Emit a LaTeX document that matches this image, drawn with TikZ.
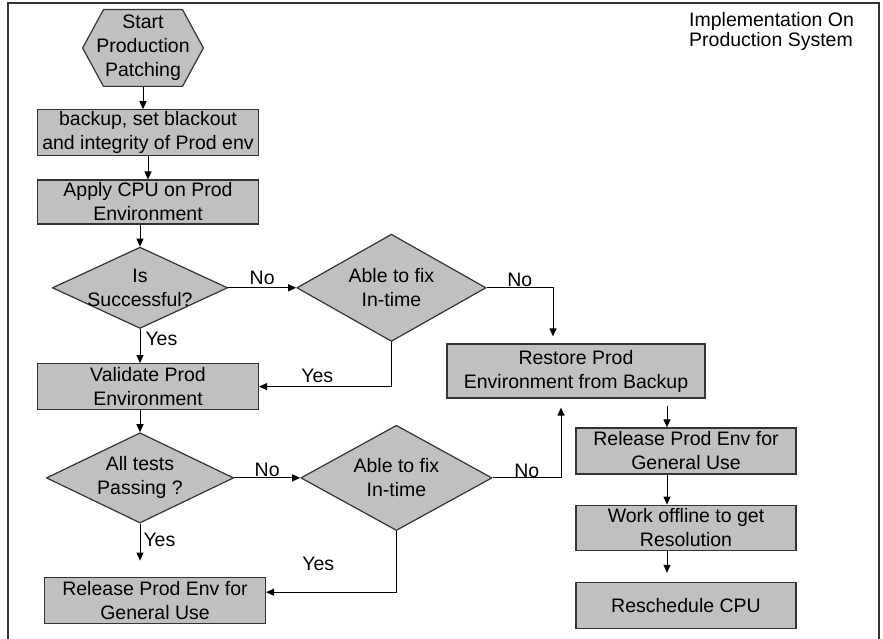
\documentclass[tikz,border=0pt]{standalone}
\usepackage{fontspec}
\setmainfont{Liberation Sans}
\usetikzlibrary{arrows.meta,positioning,calc}

\definecolor{boxgray}{HTML}{C0C0C0}
\definecolor{edgegray}{HTML}{333333}

\begin{document}
\begin{tikzpicture}[
  x=1pt, y=-1pt,
  every node/.style={font=\fontsize{19.5}{24}\selectfont, inner sep=1pt},
  box/.style={draw=edgegray, line width=1.2pt, fill=boxgray, align=center, minimum width=221pt, minimum height=46pt},
  decision/.style={align=center, path picture={\draw[draw=edgegray, line width=1.2pt, fill=boxgray]
      ([yshift=-0.6pt]path picture bounding box.north) -- ([xshift=-0.6pt]path picture bounding box.east)
      -- ([yshift=0.6pt]path picture bounding box.south) -- ([xshift=0.6pt]path picture bounding box.west) -- cycle;}},
  hexa/.style={align=center, minimum width=122pt, minimum height=78pt, path picture={\draw[draw=edgegray, line width=1.2pt, fill=boxgray]
      ([xshift=0.6pt]path picture bounding box.west) -- ([xshift=21.5pt, yshift=-0.6pt]path picture bounding box.north west)
      -- ([xshift=-21.5pt, yshift=-0.6pt]path picture bounding box.north east) -- ([xshift=-0.6pt]path picture bounding box.east)
      -- ([xshift=-21.5pt, yshift=0.6pt]path picture bounding box.south east) -- ([xshift=21.5pt, yshift=0.6pt]path picture bounding box.south west) -- cycle;}},
  arr/.style={-{Triangle[width=7pt,length=8pt]}, line width=1pt},
  title/.style={align=left, font=\fontsize{19.5}{20}\selectfont}
]
\useasboundingbox (0,0) rectangle (883,639);
\draw[edgegray, line width=1.5pt] (8,639) -- (8,3) -- (879,3) -- (879,639);

\node[title, anchor=west] (heading) at (688,31) {Implementation On\\Production System};

% main column
\node[hexa] (start) at (143,48) {Start\\Production\\Patching};
\node[box, below=22pt of start, xshift=5pt] (backup) {backup, set blackout\\and integrity of Prod env};
\node[box, minimum height=44pt, below=23pt of backup] (apply) {Apply CPU on Prod\\Environment};
\node[decision, minimum width=176pt, minimum height=82pt, below=22pt of apply, xshift=-8pt] (issucc) {Is\\Successful?};
\node[box, below=34pt of issucc, xshift=8pt] (validate) {Validate Prod\\Environment};
\node[decision, minimum width=188pt, minimum height=91pt, below=22pt of validate, xshift=-8pt] (alltests) {All tests\\Passing ?};
\node[box, below=53pt of alltests, xshift=15pt] (release) {Release Prod Env for\\General Use};

% fix attempts
\node[decision, minimum width=190pt, minimum height=108pt, right=68pt of issucc] (fixa) {Able to fix\\In-time};
\node[decision, minimum width=192pt, minimum height=106pt, right=66pt of alltests] (fixb) {Able to fix\\In-time};

% rollback column
\node[box, minimum width=258pt, minimum height=54pt] (restore) at (576,371) {Restore Prod\\Environment from Backup};
\node[box, minimum width=220pt] (releaseb) at (686,451) {Release Prod Env for\\General Use};
\node[box, minimum width=220pt, minimum height=45pt, below=30pt of releaseb] (offline) {Work offline to get\\Resolution};
\node[box, minimum width=220pt, below=31pt of offline] (resched) {Reschedule CPU};

\draw[arr] (start.south) -- (start.south |- backup.north);
\draw[arr] (backup.south) -- (apply.north);
\draw[arr] (issucc.north |- apply.south) -- (issucc.north);
\draw[arr] (issucc.south) -- node[right=4pt, pos=0.3] (yesa) {Yes} (issucc.south |- validate.north);
\draw[arr] (alltests.north |- validate.south) -- (alltests.north);
\draw[arr, shorten >=16pt] (alltests.south) -- node[right=2pt, pos=0.3] (yesb) {Yes} (alltests.south |- release.north);

\draw[arr] (issucc.east) -- node[above=2pt] (noa) {No} (fixa.west);
\draw[arr] (fixa.south) |- node[above=2pt, pos=0.78] (yesc) {Yes} (validate.east);
\draw[arr] (fixa.east) -| node[above, pos=0.25] (nob) {No} ([xshift=-23pt, yshift=7pt]restore.north);

\draw[arr] (alltests.east) -- node[above] (noc) {No} (fixb.west);
\draw[arr] (fixb.east) -| node[above=-1pt, pos=0.25] (nod) {No} ([xshift=-15pt, yshift=-9pt]restore.south);
\draw[arr] (fixb.south) |- node[above=20pt, pos=0.8] (yesd) {Yes} ([yshift=8pt]release.east);

\draw[arr, shorten <=7pt] ([xshift=-19pt]releaseb.north |- restore.south) -- ([xshift=-19pt]releaseb.north);
\draw[arr] ([xshift=-19pt]releaseb.south) -- ([xshift=-19pt]offline.north);
\draw[arr, shorten >=9pt] ([xshift=-19pt]offline.south) -- ([xshift=-19pt]resched.north);

\end{tikzpicture}
\end{document}
